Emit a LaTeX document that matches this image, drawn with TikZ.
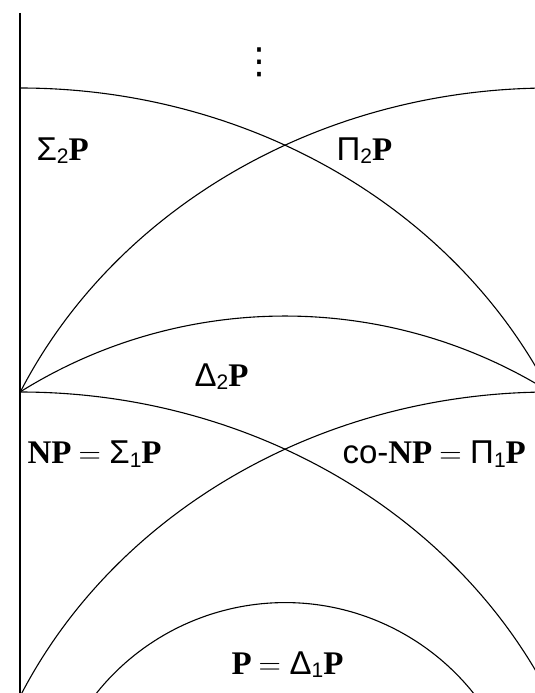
\documentclass[tikz,border=0pt]{standalone}
\usepackage{fontspec}
\setmainfont{Liberation Serif}
\newfontfamily\sff{Liberation Sans}
\newfontfamily\lmr{Latin Modern Roman}
\newfontfamily\djv{DejaVu Sans}
\newcommand\gsub[2]{{\sff #1}\raisebox{-3.5pt}{\fontsize{21}{21}\selectfont\sff #2}}
\newcommand\eqs{\hspace{7pt}{\lmr\fontsize{31}{36}\selectfont =}\hspace{8.5pt}}
\begin{document}
\begin{tikzpicture}[x=1pt,y=1pt,line width=1.1pt,
  lab/.style={inner sep=0pt,anchor=base west,font=\fontsize{33}{38}\selectfont},
  bigarc/.style={x radius=584,y radius=525}]
\useasboundingbox (0,0) rectangle (535,-693);
\coordinate (vt) at (20,-13);
\coordinate (vb) at (20,-693);
\draw (vt) -- (vb);
\begin{scope}
\clip (0,0) rectangle (535,-693);
\draw (20,-88) arc[start angle=90,end angle=24.8,bigarc];
\draw (550,-88) arc[start angle=90,end angle=155.2,bigarc];
\draw (20,-392) arc[start angle=90,end angle=24.8,bigarc];
\draw (550,-392) arc[start angle=90,end angle=155.2,bigarc];
\draw (20,-392) arc[start angle=122,end angle=58,radius=500];
\draw (285,-844) ++(150:241.4) arc[start angle=150,end angle=30,radius=241.4];
\end{scope}
\node[inner sep=0pt] (dots) at (259,-62) {\djv\fontsize{36}{40}\selectfont ⋮};
\node[lab] (s2) at (36,-160) {\gsub{Σ}{2}\textbf{P}};
\node[lab] (p2) at (336,-160) {\gsub{Π}{2}\textbf{P}};
\node[lab] (d2) at (194,-386) {\gsub{Δ}{2}\textbf{P}};
\node[lab] (np) at (27,-463.5) {\textbf{NP}\eqs\gsub{Σ}{1}\textbf{P}};
\node[lab] (conp) at (342,-463.5) {{\sff co-}\textbf{NP}\eqs\gsub{Π}{1}\textbf{P}};
\node[lab] (pp) at (231,-674) {\textbf{P}\eqs\gsub{Δ}{1}\textbf{P}};
\end{tikzpicture}
\end{document}
